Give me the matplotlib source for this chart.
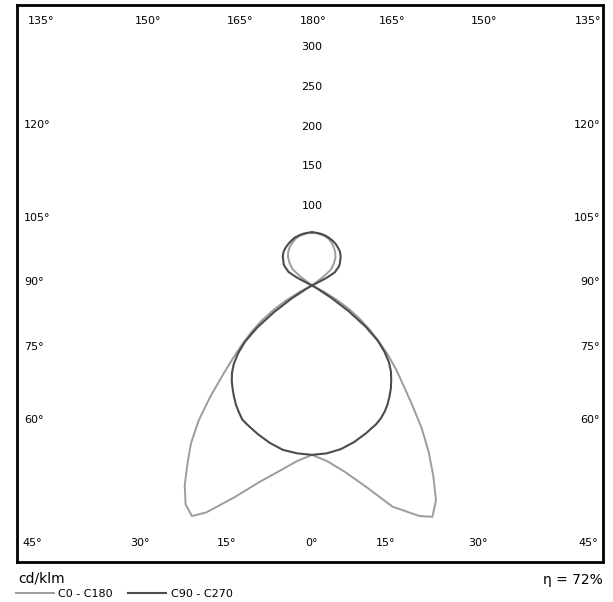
import numpy as np
import matplotlib.pyplot as plt

# polar intensity data, cd/klm, gamma measured from nadir
gamma = [0, 5, 10, 15, 20,
         25, 27.5, 30, 32.5, 35, 37.5, 40, 42.5, 45, 47.5, 50, 52.5, 55, 57.5, 60, 62.5, 65,
         70, 75, 80, 85, 90, 95, 100, 105, 110, 115, 117.5, 120,
         125, 127.5, 130, 135, 140, 145, 150, 155, 160, 165, 170, 175, 180]

c0 = [213, 222, 238, 262, 296,
      320, 328, 312, 284, 256, 227, 196, 170, 150, 130, 110, 92, 74, 55, 36, 17, 3,
      0, 0, 0, 0, 0, 0, 0, 0, 0, 0, 0, 0,
      0, 18, 31, 39, 46, 51, 55, 59, 62, 64, 65, 66, 67]
c180 = [213, 222, 237, 256, 283,
        315, 327, 318, 298, 273, 250, 222, 189, 158, 134, 114, 96, 78, 58, 38, 18, 3,
        0, 0, 0, 0, 0, 0, 0, 0, 0, 0, 0, 0,
        0, 19, 32, 40, 47, 52, 56, 59, 62, 64, 65, 66, 67]
c90 = [213, 212, 209, 204, 198,
       192, 188, 183, 177, 170, 163, 155, 147, 137, 124, 108, 85, 56, 28, 6, 0, 0,
       0, 0, 0, 0, 0, 0, 0, 0, 0, 0, 20, 33,
       41, 44, 46, 51, 55, 57.5, 60, 62, 63.5, 65, 66, 66.5, 67]
c270 = [213, 212, 210, 205, 199,
        193, 190, 184, 178, 171, 164, 157, 149, 139, 126, 110, 87, 58, 30, 7, 0, 0,
        0, 0, 0, 0, 0, 0, 0, 0, 0, 0, 21, 34,
        42, 45, 47, 52, 55.5, 58, 60, 62, 64, 65, 66, 66.5, 67]

r_ticks = [100, 150, 200, 250, 300]
top_labels = ['135°', '150°', '165°', '180°', '165°', '150°', '135°']
top_x = [41, 148, 240, 313, 392, 484, 588]
bottom_labels = ['45°', '30°', '15°', '0°', '15°', '30°', '45°']
bottom_x = [32, 140, 227, 312, 386, 478, 588]
side_labels = ['120°', '105°', '90°', '75°', '60°']
side_y = [125, 218, 282, 347, 420]

W, H = 613, 602
fig = plt.figure(figsize=(W / 100, H / 100), dpi=100)
plt.rcParams['font.family'] = 'DejaVu Sans'

# rectangular frame
fl, fr, ft, fb = 17, 603, 5, 562
fax = fig.add_axes([fl / W, 1 - fb / H, (fr - fl) / W, (fb - ft) / H])
fax.set_xlim(fl, fr)
fax.set_ylim(fb, ft)
fax.set_xticks([])
fax.set_yticks([])
for s in fax.spines.values():
    s.set_linewidth(2)

fs = 8
for lab, x in zip(top_labels, top_x):
    fax.text(x, 21, lab, ha='center', va='center', fontsize=fs)
for lab, x in zip(bottom_labels, bottom_x):
    fax.text(x, 543, lab, ha='center', va='center', fontsize=fs)
for lab, y in zip(side_labels, side_y):
    fax.text(24, y, lab, ha='left', va='center', fontsize=fs)
    fax.text(600, y, lab, ha='right', va='center', fontsize=fs)

# polar diagram
cx, cy = 312, 285.5
scale = 0.795  # px per cd/klm
R = 280
ax = fig.add_axes([(cx - R) / W, 1 - (cy + R) / H, 2 * R / W, 2 * R / H],
                  projection='polar')
ax.set_theta_zero_location('S')
ax.set_ylim(0, R / scale)
ax.axis('off')

g = np.deg2rad(gamma)
th = np.concatenate([-g[::-1], g])
ax.plot(th, np.concatenate([np.array(c180)[::-1], c0]), color='#9c9c9c',
        lw=1.4, label='C0 - C180')
ax.plot(th, np.concatenate([np.array(c270)[::-1], c90]), color='#4c4c4c',
        lw=1.5, label='C90 - C270')

for r in r_ticks:
    ax.text(np.pi, r, str(r), ha='center', va='center', fontsize=fs)

fig.text(18 / W, 1 - 578 / H, 'cd/klm', ha='left', va='center', fontsize=10)
fig.text(603 / W, 1 - 580 / H, 'η = 72%', ha='right', va='center', fontsize=10)

h, l = ax.get_legend_handles_labels()
fig.legend(h, l, loc='center left', bbox_to_anchor=(16 / W, 1 - 594 / H),
           ncol=2, frameon=False, fontsize=8, handlelength=3.4,
           handletextpad=0.4, columnspacing=1.4, borderpad=0, borderaxespad=0)

fig.savefig('out.png', dpi=100)
